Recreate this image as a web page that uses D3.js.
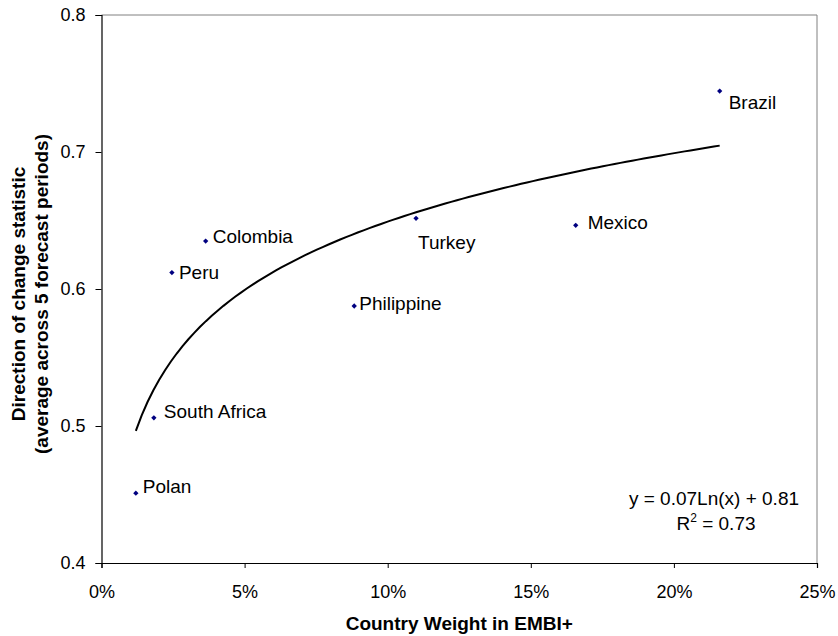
<!DOCTYPE html>
<html>
<head>
<meta charset="utf-8">
<script src="https://cdn.jsdelivr.net/npm/d3@7"></script>
<style>
  body { margin: 0; background: #fff; }
  svg { font-family: "Liberation Sans", Arial, sans-serif; }
</style>
</head>
<body>
<svg id="chart" width="838" height="636"></svg>
<script>
// Data
const countries = ["Polan", "South Africa", "Peru", "Colombia", "Philippine", "Turkey", "Mexico", "Brazil"];
const weights = [0.012, 0.0183, 0.0246, 0.0364, 0.0883, 0.1099, 0.1657, 0.216];
const directionStat = [0.451, 0.506, 0.612, 0.635, 0.5876, 0.6516, 0.6465, 0.7445];
const xTicks = [0, 0.05, 0.10, 0.15, 0.20, 0.25];
const yTicks = [0.4, 0.5, 0.6, 0.7, 0.8];
const equationText = "y = 0.07Ln(x) + 0.81";
const r2Text = "0.73";

// label nudges (px) relative to each point, as Excel placed them
const labelNudge = {
    "Polan": [7, 0], "South Africa": [10, 0], "Peru": [7, 6], "Colombia": [7, 2],
    "Philippine": [5, 4], "Turkey": [2, 31], "Mexico": [12, 4], "Brazil": [9, 18]
};

const svg = d3.select('#chart');
const plotLeft = 101.5, plotRight = 817, plotTop = 15, plotBottom = 563;

const x = d3.scaleLinear().domain([0, 0.25]).range([plotLeft, plotRight]);
const y = d3.scaleLinear().domain([0.4, 0.8]).range([plotBottom, plotTop]);

const points = countries.map((c, i) => ({ name: c, x: weights[i], y: directionStat[i] }));

// Logarithmic trendline fitted to the data (least squares on ln x)
const lx = points.map(d => Math.log(d.x));
const mx = d3.mean(lx), my = d3.mean(points, d => d.y);
let sxy = 0, sxx = 0;
points.forEach((d, i) => {
    sxy += (lx[i] - mx) * (d.y - my);
    sxx += (lx[i] - mx) ** 2;
});
const slope = sxy / sxx;
const intercept = my - slope * mx;

// plot-area border (grey top/right)
svg.append("path")
    .attr("d", `M${plotLeft},${plotTop}H${plotRight}V${plotBottom}`)
    .attr("fill", "none")
    .attr("stroke", "#808080")
    .attr("stroke-width", 1);

// axes
const xAxis = svg.append("g")
    .attr("transform", `translate(0,${plotBottom})`)
    .call(d3.axisBottom(x).tickValues(xTicks).tickFormat(d3.format(".0%")).tickSize(5).tickPadding(17));
const yAxis = svg.append("g")
    .attr("transform", `translate(${plotLeft},0)`)
    .call(d3.axisLeft(y).tickValues(yTicks).tickFormat(d3.format(".1f")).tickSize(6).tickPadding(10));

[xAxis, yAxis].forEach(g => {
    g.select(".domain").attr("stroke", "#000").attr("stroke-width", 1.2);
    g.selectAll(".tick line").attr("stroke", "#000");
    g.selectAll(".tick text").attr("font-size", 18).attr("fill", "#000")
        .attr("font-family", '"Liberation Sans", Arial, sans-serif');
});

// trendline curve
const [x0, x1] = d3.extent(weights);
const curvePts = d3.range(0, 101).map(k => {
    const xv = x0 + (x1 - x0) * k / 100;
    return [xv, slope * Math.log(xv) + intercept];
});
svg.append("path")
    .datum(curvePts)
    .attr("fill", "none")
    .attr("stroke", "#000")
    .attr("stroke-width", 2)
    .attr("d", d3.line().x(d => x(d[0])).y(d => y(d[1])));

// markers (small square diamonds)
svg.append("g")
    .selectAll("path")
    .data(points)
    .join("path")
    .attr("transform", d => `translate(${x(d.x)},${y(d.y)}) rotate(45)`)
    .attr("d", d3.symbol(d3.symbolSquare, 14))
    .attr("fill", "#000080");

// data labels
svg.append("g")
    .selectAll("text")
    .data(points)
    .join("text")
    .attr("x", d => x(d.x) + labelNudge[d.name][0])
    .attr("y", d => y(d.y) + labelNudge[d.name][1])
    .attr("font-size", 19)
    .attr("fill", "#000")
    .text(d => d.name);

// equation
svg.append("text")
    .attr("x", 714)
    .attr("y", 505)
    .attr("text-anchor", "middle")
    .attr("font-size", 19)
    .text(equationText);
const r2t = svg.append("text")
    .attr("x", 716)
    .attr("y", 530)
    .attr("text-anchor", "middle")
    .attr("font-size", 19);
r2t.append("tspan").text("R");
r2t.append("tspan").attr("font-size", 12).attr("dy", -8).text("2");
r2t.append("tspan").attr("dy", 8).text(` = ${r2Text}`);

// axis titles
svg.append("text")
    .attr("x", (plotLeft + plotRight) / 2)
    .attr("y", 630)
    .attr("text-anchor", "middle")
    .attr("font-size", 19)
    .attr("font-weight", "bold")
    .text("Country Weight in EMBI+");

const yTitle = svg.append("text")
    .attr("transform", `translate(25,294) rotate(-90)`)
    .attr("text-anchor", "middle")
    .attr("font-size", 19)
    .attr("font-weight", "bold");
yTitle.append("tspan").attr("x", 0).attr("dy", 0).text("Direction of change statistic");
yTitle.append("tspan").attr("x", 0).attr("dy", 23).text("(average across 5 forecast periods)");
</script>
</body>
</html>
